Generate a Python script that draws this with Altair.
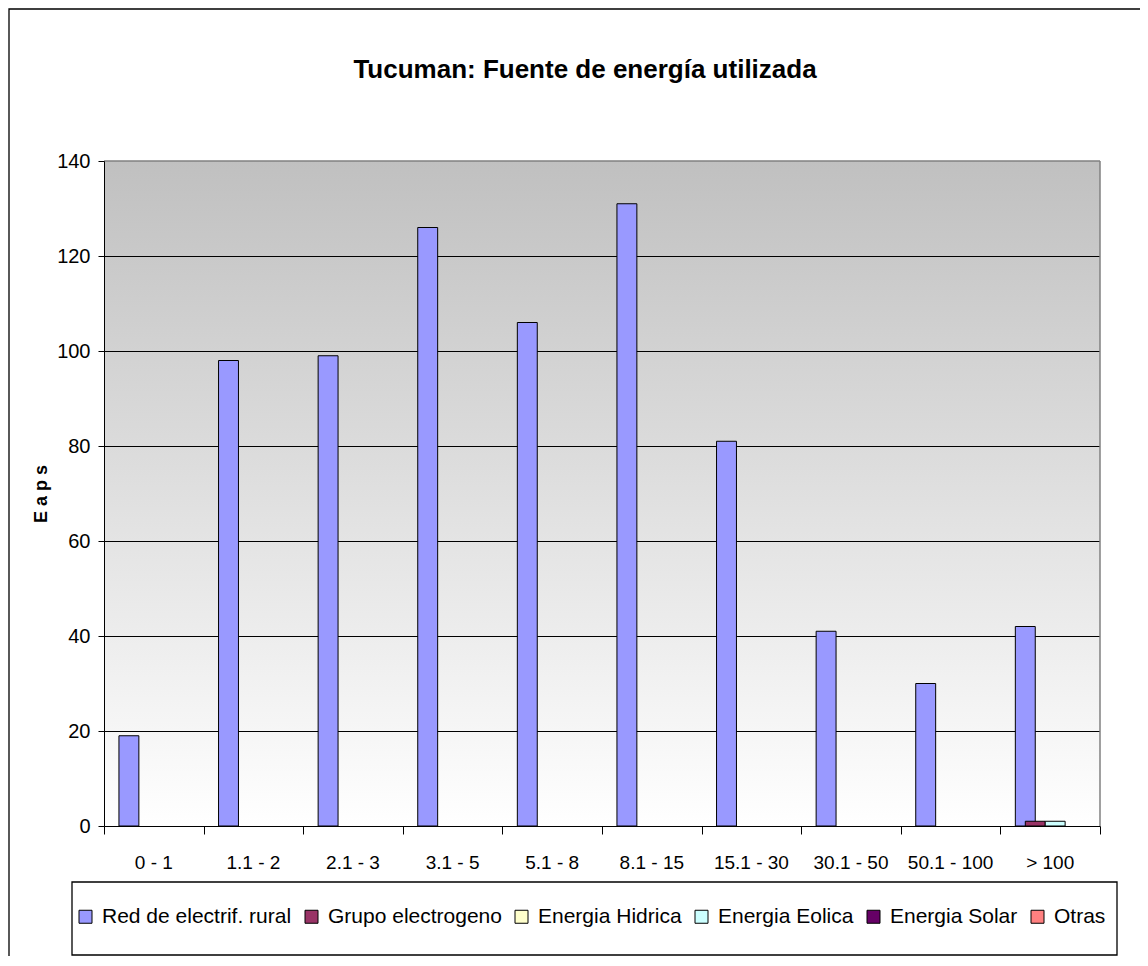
import altair as alt
import pandas as pd

TITLE = "Tucuman: Fuente de energía utilizada"
Y_TITLE = "E a p s"
CATEGORIES = ["0 - 1", "1.1 - 2", "2.1 - 3", "3.1 - 5", "5.1 - 8", "8.1 - 15",
              "15.1 - 30", "30.1 - 50", "50.1 - 100", "> 100"]
SERIES = ["Red de electrif. rural", "Grupo electrogeno", "Energia Hidrica",
          "Energia Eolica", "Energia Solar", "Otras"]
RED = [19, 98, 99, 126, 106, 131, 81, 41, 30, 42]
GRUPO = [0, 0, 0, 0, 0, 0, 0, 0, 0, 1]
HIDRICA = [0, 0, 0, 0, 0, 0, 0, 0, 0, 0]
EOLICA = [0, 0, 0, 0, 0, 0, 0, 0, 0, 1]
SOLAR = [0, 0, 0, 0, 0, 0, 0, 0, 0, 0]
OTRAS = [0, 0, 0, 0, 0, 0, 0, 0, 0, 0]
COLORS = ["#9999FF", "#993366", "#FFFFCC", "#CCFFFF", "#660066", "#FF8080"]
Y_TICKS = [0, 20, 40, 60, 80, 100, 120, 140]
GRID = [20, 40, 60, 80, 100, 120]

FONT = "Liberation Sans, Arial, sans-serif"
W, H = 996, 665

rows = []
for j, (name, vals) in enumerate(zip(SERIES, [RED, GRUPO, HIDRICA, EOLICA, SOLAR, OTRAS])):
    for i, v in enumerate(vals):
        rows.append({"i": i, "j": j, "serie": name, "cat": CATEGORIES[i], "v": v})
df = pd.DataFrame(rows)
cat_df = pd.DataFrame({"i": list(range(len(CATEGORIES))), "cat": CATEGORIES})

xscale = alt.Scale(domain=[0, len(CATEGORIES)], nice=False, zero=False)
yscale = alt.Scale(domain=[0, 140], nice=False)

X_AXIS = alt.Axis(values=list(range(len(CATEGORIES) + 1)), labels=False,
                  tickSize=8, tickColor="black", domainColor="black",
                  grid=False, title=None, zindex=1)
Y_AXIS = alt.Axis(values=Y_TICKS, format="d", labelFont=FONT, labelFontSize=20,
                  labelColor="black", labelPadding=8, tickSize=6,
                  tickColor="black", domainColor="black", grid=False,
                  labelFlush=False,
                  title=Y_TITLE, titleFont=FONT, titleFontSize=18,
                  titleFontWeight="bold", titleColor="black",
                  titleX=-63, titleY=H / 2, titleAngle=270,
                  titleAlign="center", titleBaseline="middle", zindex=1)

one = pd.DataFrame({"t": [TITLE]})

border = alt.Chart(one).mark_rect(fill="white", stroke="black", strokeWidth=1.3).encode(
    x=alt.value(-95), x2=alt.value(W + 100), y=alt.value(-152), y2=alt.value(H + 200)
)

gradient = alt.Chart(one).mark_rect(
    color=alt.LinearGradient(
        gradient="linear",
        stops=[alt.GradientStop(offset=0, color="#C0C0C0"),
               alt.GradientStop(offset=1, color="#FFFFFF")],
        x1=0, x2=0, y1=0, y2=1,
    )
).encode(x=alt.value(0), x2=alt.value(W), y=alt.value(0), y2=alt.value(H))

grid = alt.Chart(pd.DataFrame({"g": GRID})).mark_rule(
    color="black", strokeWidth=1, yOffset=0.5
).encode(y=alt.Y("g:Q", scale=yscale, axis=Y_AXIS))
topline = alt.Chart(pd.DataFrame({"g": [140]})).mark_rule(color="#808080", strokeWidth=1.5).encode(
    y=alt.Y("g:Q", scale=yscale, axis=Y_AXIS)
)
rightline = alt.Chart(pd.DataFrame({"g": [len(CATEGORIES)]})).mark_rule(color="#808080", strokeWidth=1.5).encode(
    x=alt.X("g:Q", scale=xscale, axis=X_AXIS)
)

bars = alt.Chart(df).transform_filter("datum.v > 0").transform_calculate(
    x0="datum.i + 0.15 + 0.1 * datum.j",
    x1="datum.i + 0.35 + 0.1 * datum.j",
    base="0",
).mark_bar(stroke="black", strokeWidth=1, opacity=1).encode(
    x=alt.X("x0:Q", scale=xscale, axis=X_AXIS),
    x2="x1:Q",
    y=alt.Y("v:Q", scale=yscale, axis=Y_AXIS),
    y2="base:Q",
    color=alt.Color("serie:N",
                    scale=alt.Scale(domain=SERIES, range=COLORS),
                    sort=SERIES,
                    legend=alt.Legend(orient="none", legendX=-29, legendY=745,
                                      direction="horizontal", columns=6, title=None,
                                      symbolType="square", symbolSize=169,
                                      symbolStrokeColor="black", symbolStrokeWidth=1,
                                      symbolOpacity=1, labelLimit=400,
                                      labelFont=FONT, labelFontSize=21, labelColor="black",
                                      labelOffset=6, columnPadding=9, padding=0)),
    order=alt.Order("j:Q"),
)

xlabels = alt.Chart(cat_df).transform_calculate(xc="datum.i + 0.5").mark_text(
    font=FONT, fontSize=19, color="black", align="center", baseline="top"
).encode(x=alt.X("xc:Q", scale=xscale, axis=X_AXIS), y=alt.value(H + 28), text="cat:N")

legend_box = alt.Chart(one).mark_rect(fill="white", stroke="black", strokeWidth=1.3).encode(
    x=alt.value(-32), x2=alt.value(1013), y=alt.value(721), y2=alt.value(794)
)

title = alt.Chart(one).mark_text(
    font=FONT, fontSize=26, fontWeight="bold", color="black",
    align="center", baseline="alphabetic"
).encode(text="t:N", x=alt.value(481), y=alt.value(-83))

chart = alt.layer(
    border, gradient, grid, topline, rightline, legend_box, bars, xlabels, title
).properties(
    width=W, height=H, autosize="none",
    padding={"left": 96, "top": 153, "right": 40, "bottom": 130},
).configure_view(stroke=None)

chart.save("out.html", embed_options={"renderer": "svg", "actions": False})
